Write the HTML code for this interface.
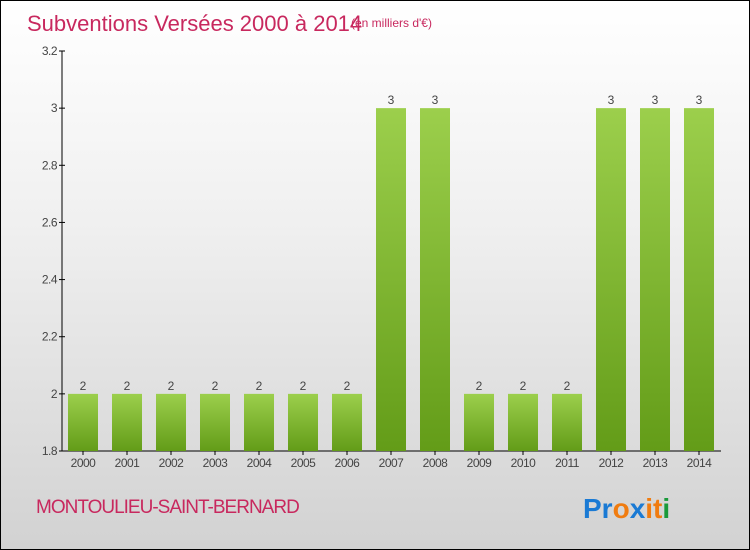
<!DOCTYPE html>
<html><head><meta charset="utf-8"><style>
body{margin:0}
#c{position:relative;width:748px;height:548px;border:1px solid #000;background:linear-gradient(#fff 0%,#f0f0f0 40%,#d2d2d2 100%);font-family:"Liberation Sans",sans-serif;overflow:hidden}
</style></head><body>
<div id="c">
<svg width="748" height="548" style="position:absolute;left:0;top:0">
<defs><linearGradient id="g" x1="0" y1="0" x2="0" y2="1"><stop offset="0" stop-color="#9ccf4c"/><stop offset="1" stop-color="#639c18"/></linearGradient></defs>
<text x="26" y="30" font-size="22" fill="#c8285e">Subventions Versées 2000 à 2014</text>
<text x="350" y="26" font-size="12" fill="#c8285e">(en milliers d'€)</text>
<g id="plot"></g>
<text x="35" y="512" font-size="19" fill="#c8285e" letter-spacing="-1">MONTOULIEU-SAINT-BERNARD</text>
<g font-size="28" font-weight="bold" font-family="'Liberation Sans',sans-serif">
<text x="582" y="517"><tspan fill="#1a7ad4">Pr</tspan><tspan fill="#f07c10">o</tspan><tspan fill="#1a7ad4">x</tspan><tspan fill="#f07c10">it</tspan><tspan fill="#1a9a3a">i</tspan></text></g>
</svg>
</div>
<script>
const years=["2000","2001","2002","2003","2004","2005","2006","2007","2008","2009","2010","2011","2012","2013","2014"];
const values=[2,2,2,2,2,2,2,3,3,2,2,2,3,3,3];
const ticks=[1.8,2,2.2,2.4,2.6,2.8,3,3.2];
const tickLabels=["1.8","2","2.2","2.4","2.6","2.8","3","3.2"];
const NS="http://www.w3.org/2000/svg";
const g=document.getElementById('plot');
const y0=450,y1=50,vmin=1.8,vmax=3.2;
function yS(v){return y0-(v-vmin)/(vmax-vmin)*(y0-y1);}
function xS(i){return 82+i*44;}
function mk(t,a){const e=document.createElementNS(NS,t);for(const k in a)e.setAttribute(k,a[k]);g.appendChild(e);return e;}
let ax=mk('line',{x1:61,y1:y1,x2:61,y2:y0,stroke:'#000'});


let xa=mk('line',{x1:61,y1:y0,x2:720,y2:y0,stroke:'#000'});


ticks.forEach((t,i)=>{const y=yS(t);
mk('line',{x1:58,y1:y,x2:64,y2:y,stroke:'#000'});
const tx=mk('text',{x:56,y:y+4,'font-size':12,fill:'#444','text-anchor':'end','letter-spacing':'-0.5'});tx.textContent=tickLabels[i];

});
values.forEach((v,i)=>{const x=xS(i),y=yS(v);
const b=mk('rect',{x:x-15,y:y,width:30,height:y0-y,fill:'url(#g)'});


const l=mk('text',{x:x,y:y-4,'font-size':12,fill:'#444','text-anchor':'middle'});l.textContent=v;


mk('line',{x1:x,y1:y0,x2:x,y2:y0+4,stroke:'#000'});
const xl=mk('text',{x:x,y:466,'font-size':12,fill:'#444','text-anchor':'middle','letter-spacing':'-0.5'});xl.textContent=years[i];

});
</script>
</body></html>
